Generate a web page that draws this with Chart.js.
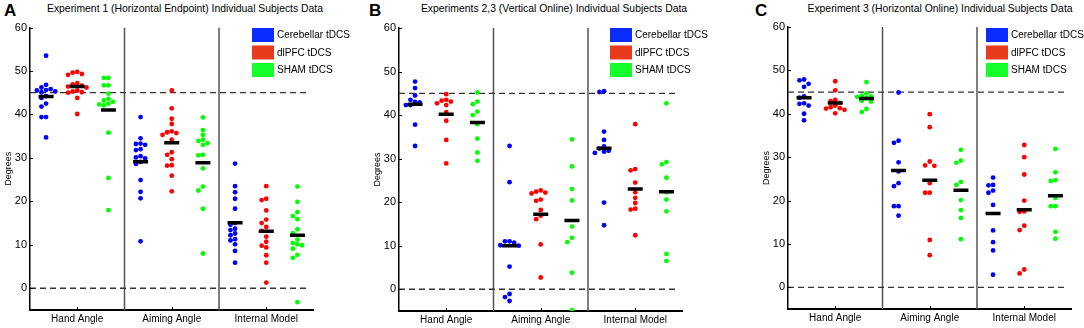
<!DOCTYPE html>
<html>
<head>
<meta charset="utf-8">
<script src="https://cdn.jsdelivr.net/npm/chart.js@4.4.0/dist/chart.umd.min.js"></script>
<style>
  body { margin: 0; width: 1084px; height: 328px; position: relative; background: #fff; overflow: hidden;
         font-family: "Liberation Sans", Arial, sans-serif; color: #000; }
  canvas { position: absolute; top: 0; }
  .ttl { position: absolute; top: 3px; font-size: 10.4px; line-height: 12px; white-space: nowrap; transform: translateX(-50%); }
  .let { position: absolute; top: 1px; font-size: 17px; line-height: 19px; font-weight: bold; }
</style>
</head>
<body>
<div class="let" style="left:4px">A</div>
<div class="let" style="left:369px">B</div>
<div class="let" style="left:755px">C</div>
<div class="ttl" style="left:185px">Experiment 1 (Horizontal Endpoint) Individual Subjects Data</div>
<div class="ttl" style="left:554px">Experiments 2,3 (Vertical Online) Individual Subjects Data</div>
<div class="ttl" style="left:940px">Experiment 3 (Horizontal Online) Individual Subjects Data</div>
<script>
const categories = ["Hand Angle", "Aiming Angle", "Internal Model"];
const groups = ["Cerebellar tDCS", "dlPFC tDCS", "SHAM tDCS"];
const yTicks = [0, 10, 20, 30, 40, 50, 60];
const refLines = [45, 0];

// Experiment 1 - each array: [hand, aiming, internal]
const aCerebellar = [
  [53.5, 46.8, 46.2, 45.8, 45.6, 45.5, 45.3, 45.1, 44.2, 43.8, 42.5, 41.8, 39.4, 39.4, 34.7],
  [39.4, 34.5, 33.3, 33.2, 33.0, 32.0, 31.8, 30.4, 30.1, 29.9, 29.1, 28.6, 24.9, 22.2, 20.7, 10.8],
  [28.7, 23.5, 22.1, 20.6, 18.3, 15.0, 14.6, 13.7, 13.4, 12.6, 12.2, 11.3, 11.0, 10.1, 8.6, 5.9]
];
const aDlpfc = [
  [49.8, 49.6, 49.3, 49.1, 47.2, 46.9, 46.6, 46.4, 46.2, 45.5, 45.3, 45.1, 45.0, 43.8, 40.1],
  [45.5, 41.4, 39.0, 37.8, 36.1, 35.9, 35.7, 35.3, 34.2, 31.3, 30.7, 29.7, 28.3, 28.2, 25.9, 22.3],
  [23.5, 20.6, 20.3, 17.9, 15.8, 15.0, 14.1, 13.2, 11.9, 10.7, 9.8, 9.4, 7.6, 5.9, 1.3]
];
const aSham = [
  [48.4, 48.4, 46.7, 46.7, 44.8, 43.6, 43.2, 42.9, 42.5, 42.3, 42.1, 35.8, 25.4, 18.0],
  [39.3, 36.4, 35.3, 34.2, 33.9, 33.4, 33.0, 30.7, 30.6, 27.6, 23.4, 22.5, 18.3, 8.0],
  [23.4, 19.9, 17.5, 16.6, 15.9, 13.6, 12.7, 11.2, 10.4, 10.1, 9.9, 9.1, 7.7, 7.0, -3.2]
];
// means: [category][group]
const aMeans = [[44.1, 46.4, 41.0], [29.1, 33.5, 28.9], [15.1, 13.1, 12.2]];

// Experiments 2,3
const bCerebellar = [
  [47.7, 46.2, 44.5, 43.5, 43.0, 42.9, 42.3, 42.3, 37.8, 32.9],
  [32.9, 24.6, 11.0, 11.0, 10.7, 10.1, 10.0, 5.2, -1.1, -1.8, -2.7],
  [45.5, 45.3, 36.2, 34.3, 32.8, 32.3, 31.8, 31.6, 31.3, 19.9, 14.7]
];
const bDlpfc = [
  [44.8, 43.5, 43.3, 43.1, 42.7, 42.3, 40.7, 38.7, 34.3, 28.9],
  [22.7, 22.4, 22.2, 22.0, 20.6, 20.3, 18.2, 16.9, 16.1, 10.3, 2.7],
  [37.9, 27.6, 27.3, 24.5, 22.3, 21.0, 19.8, 18.5, 18.3, 12.4]
];
const bSham = [
  [45.2, 43.1, 42.5, 40.8, 40.0, 37.9, 34.6, 31.4, 29.5],
  [34.4, 28.2, 23.0, 20.4, 14.4, 11.8, 10.8, 3.8, -4.8],
  [42.7, 29.2, 28.7, 25.6, 22.3, 20.6, 17.9, 8.1, 6.5]
];
const bMeans = [[42.5, 40.2, 38.3], [10.0, 17.2, 15.8], [32.4, 23.0, 22.4]];

// Experiment 3
const cCerebellar = [
  [47.9, 47.7, 46.9, 46.2, 44.0, 43.7, 42.4, 42.3, 41.9, 40.0, 38.5],
  [44.9, 33.8, 33.3, 28.8, 26.7, 24.0, 23.3, 18.7, 18.7, 16.5],
  [25.3, 23.6, 23.5, 22.3, 21.8, 19.0, 13.1, 10.4, 8.5, 2.9]
];
const cDlpfc = [
  [47.5, 45.4, 43.2, 42.9, 42.5, 41.9, 41.5, 41.3, 41.2, 40.9, 40.1],
  [39.9, 36.9, 29.0, 28.1, 28.0, 24.0, 21.8, 21.8, 10.9, 7.4],
  [32.8, 30.0, 26.0, 20.0, 17.5, 17.4, 14.2, 13.2, 4.1, 3.2]
];
const cSham = [
  [47.3, 44.7, 44.2, 44.0, 43.9, 43.6, 43.0, 42.8, 41.1, 40.4],
  [31.7, 29.2, 28.7, 24.3, 23.6, 20.1, 17.8, 16.0, 11.1],
  [31.9, 26.5, 24.7, 24.5, 20.6, 18.7, 18.7, 12.8, 11.2]
];
const cMeans = [[43.7, 42.5, 43.5], [26.9, 24.7, 22.4], [17.0, 17.9, 21.1]];

const dotColors = ["#0000ff", "#ff0000", "#00ff00"];
const legendColors = ["#0a2cff", "#e93a1c", "#14ff2c"];
const groupOffsets = [-0.33, 0, 0.33];
const FONT = "'Liberation Sans', Arial, sans-serif";

const panels = [
  { left: 0,   width: 360, axisX: 30,  top: 27.5, bottom: 310, legendX: 222,
    groups: [aCerebellar, aDlpfc, aSham], means: aMeans },
  { left: 369, width: 360, axisX: 399, top: 28,   bottom: 311, legendX: 211,
    groups: [bCerebellar, bDlpfc, bSham], means: bMeans },
  { left: 758, width: 326, axisX: 788, top: 27,   bottom: 309, legendX: 198,
    groups: [cCerebellar, cDlpfc, cSham], means: cMeans }
];

// simple beeswarm so equal values sit side by side
function swarm(vals, center) {
  const d = 4.6, pxX = 94.5, pxY = 4.35;
  const placed = [];
  vals.slice().sort((a, b) => b - a).forEach(v => {
    for (let k = 0; k < 20; k++) {
      const step = k === 0 ? 0 : (k % 2 ? -Math.ceil(k / 2) : Math.ceil(k / 2));
      const px = step * d;
      const hit = placed.some(p => Math.hypot(p.px - px, (p.v - v) * pxY) < d);
      if (!hit) { placed.push({ px, v }); break; }
    }
  });
  return placed.map(p => ({ x: center + p.px / pxX, y: p.v }));
}

const innerTicks = {
  id: "innerTicks",
  afterDraw(chart) {
    const ctx = chart.ctx, a = chart.chartArea;
    const xs = chart.scales.x, ys = chart.scales.y;
    ctx.save();
    ctx.strokeStyle = "#000";
    ctx.lineWidth = 1;
    ys.ticks.forEach(t => {
      const y = Math.round(ys.getPixelForValue(t.value)) + 0.5;
      ctx.beginPath(); ctx.moveTo(a.left, y); ctx.lineTo(a.left + 3, y); ctx.stroke();
    });
    xs.ticks.forEach(t => {
      const x = Math.round(xs.getPixelForValue(t.value)) + 0.5;
      ctx.beginPath(); ctx.moveTo(x, a.bottom); ctx.lineTo(x, a.bottom - 3); ctx.stroke();
    });
    ctx.restore();
  }
};

const boxLegend = {
  id: "boxLegend",
  afterDraw(chart, args, opts) {
    const ctx = chart.ctx, a = chart.chartArea;
    const x0 = a.left + opts.x;
    ctx.save();
    ctx.font = "10px 'Liberation Sans Narrow', 'Liberation Sans', Arial, sans-serif";
    ctx.textBaseline = "middle";
    groups.forEach((g, i) => {
      const y = 28 + i * 17.5;
      ctx.fillStyle = legendColors[i];
      ctx.fillRect(x0, y, 22, 14);
      ctx.fillStyle = "#000";
      ctx.fillText(g, x0 + 25, y + 7.5);
    });
    ctx.restore();
  }
};

panels.forEach(p => {
  const canvas = document.createElement("canvas");
  canvas.width = p.width;
  canvas.height = 328;
  canvas.style.left = p.left + "px";
  canvas.style.width = p.width + "px";
  canvas.style.height = "328px";
  document.body.appendChild(canvas);

  const datasets = [];
  p.groups.forEach((series, g) => {
    const pts = [];
    series.forEach((vals, c) => pts.push(...swarm(vals, c + 1 + groupOffsets[g])));
    datasets.push({ type: "scatter", label: groups[g], data: pts, backgroundColor: dotColors[g],
      borderWidth: 0, pointRadius: 2.4, order: 1 });
  });
  const meanPts = [];
  p.means.forEach((row, c) => row.forEach((m, g) => meanPts.push({ x: c + 1 + groupOffsets[g], y: m })));
  datasets.push({ type: "scatter", label: "mean", data: meanPts, pointStyle: "line", pointRadius: 7.5,
    borderColor: "#000", borderWidth: 3.5, order: 0 });
  refLines.forEach(v => datasets.push({ type: "line", data: [{ x: 0.5, y: v }, { x: 3.45, y: v }],
    borderColor: "#333", borderDash: [6, 4], borderWidth: 1.3, pointRadius: 0, order: 2 }));
  categories.slice(1).forEach((c, i) => datasets.push({ type: "line",
    data: [{ x: i + 1.5, y: -5 }, { x: i + 1.5, y: 60 }],
    borderColor: "#555", borderWidth: 1.5, pointRadius: 0, order: 2 }));

  new Chart(canvas.getContext("2d"), {
    type: "scatter",
    data: { datasets },
    options: {
      responsive: false,
      animation: false,
      devicePixelRatio: 1,
      layout: { padding: { top: p.top, bottom: 328 - p.bottom - 18, left: p.axisX - p.left - 30,
        right: p.width - (p.axisX - p.left + 283.5) } },
      plugins: { legend: { display: false }, tooltip: { enabled: false }, boxLegend: { x: p.legendX } },
      scales: {
        x: {
          type: "linear", min: 0.5, max: 3.5,
          grid: { display: false, drawTicks: false },
          border: { color: "#000", width: 2 },
          afterBuildTicks: s => { s.ticks = categories.map((c, i) => ({ value: i + 1 })); },
          afterFit: s => { s.height = 18; },
          ticks: { callback: v => categories[v - 1], color: "#000", padding: 3, maxRotation: 0,
            autoSkip: false, font: { size: 10, family: FONT } }
        },
        y: {
          min: -5, max: 60,
          grid: { display: false, drawTicks: false },
          border: { color: "#000", width: 1.5 },
          afterBuildTicks: s => { s.ticks = yTicks.map(v => ({ value: v })); },
          afterFit: s => { s.width = 30; },
          ticks: { color: "#000", padding: 3, font: { size: 11, family: FONT } },
          title: { display: true, text: "Degrees", color: "#000", padding: { top: 3.6, bottom: 0 },
            font: { size: 9, family: FONT } }
        }
      }
    },
    plugins: [innerTicks, boxLegend]
  });
});
</script>
</body>
</html>
